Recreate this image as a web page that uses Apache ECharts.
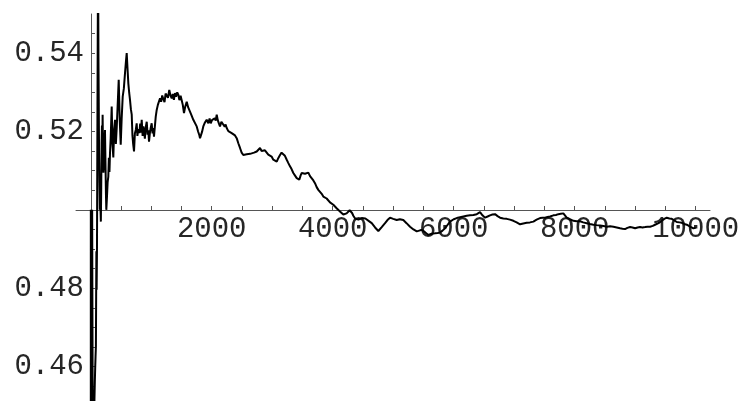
<!DOCTYPE html>
<html>
<head>
<meta charset="utf-8">
<script src="https://cdn.jsdelivr.net/npm/echarts@6/dist/echarts.min.js"></script>
<style>
  html, body { margin: 0; padding: 0; background: #fff; }
  #chart { width: 743px; height: 401px; }
</style>
</head>
<body>
<div id="chart"></div>
<script>
// running mean of coin flips
let trials = [1,2,3,4,6,8,10,12,14,16,18,21,24,27,30,34,38,44,50,56,62,68,74,80,86,90,94,98,104,108,112,116,120,124,128,132,138,144,150,156,162,168,174,180,186,192,197,204,210,220,228,236,244,252,258,264,270,280,291,300,310,319,330,347,360,374,388,402,416,430,446,463,480,496,512,529,548,567,582,595,608,622,636,650,664,678,690,702,716,730,745,760,772,786,804,818,830,843,858,870,881,895,910,926,940,952,964,978,994,1008,1022,1034,1046,1060,1075,1091,1110,1128,1146,1164,1182,1200,1220,1238,1256,1276,1299,1320,1339,1356,1375,1393,1410,1430,1448,1466,1486,1504,1522,1542,1560,1587,1610,1627,1641,1665,1696,1720,1752,1775,1795,1807,1822,1840,1861,1885,1917,1945,1965,1984,2005,2027,2050,2066,2083,2100,2120,2137,2160,2192,2215,2230,2248,2275,2303,2330,2357,2385,2413,2440,2468,2495,2522,2550,2579,2610,2635,2661,2700,2744,2770,2799,2825,2853,2880,2909,2935,2964,2990,3018,3045,3075,3100,3129,3155,3184,3210,3240,3265,3294,3320,3349,3375,3405,3430,3448,3470,3488,3515,3542,3570,3597,3625,3652,3680,3707,3735,3762,3790,3818,3845,3873,3900,3928,3955,3984,4010,4038,4065,4093,4120,4149,4175,4204,4230,4258,4280,4303,4320,4341,4370,4397,4425,4451,4480,4506,4540,4572,4610,4645,4700,4754,4810,4865,4905,4947,5000,5058,5110,5167,5220,5278,5335,5389,5430,5472,5525,5581,5635,5691,5735,5774,5815,5857,5900,5939,6000,6050,6105,6160,6215,6270,6325,6381,6435,6475,6518,6560,6600,6640,6683,6725,6766,6820,6876,6930,6986,7040,7097,7150,7207,7260,7317,7370,7427,7470,7510,7550,7593,7647,7690,7730,7770,7812,7840,7868,7920,7978,8030,8088,8140,8199,8250,8309,8360,8419,8475,8530,8585,8640,8695,8750,8790,8832,8870,8915,8955,8998,9040,9080,9120,9163,9205,9246,9290,9328,9385,9439,9480,9521,9565,9604,9645,9687,9730,9769,9810,9852,9900,9961,10000];
let means = [0,0.5,0.3333,0.25,0.3333,0.375,0.4,0.4167,0.4286,0.4375,0.4444,0.4762,0.5,0.4815,0.4667,0.4412,0.4211,0.4318,0.44,0.4464,0.4516,0.4559,0.4595,0.4625,0.4651,0.4778,0.4894,0.4796,0.4904,0.5093,0.5268,0.5431,0.5583,0.5565,0.5391,0.5303,0.5145,0.5069,0.5,0.5064,0.5,0.497,0.5057,0.5167,0.5215,0.5156,0.5243,0.5147,0.5095,0.5128,0.5175,0.5204,0.5123,0.504,0.5,0.5,0.5037,0.5071,0.5085,0.5133,0.5097,0.5145,0.5182,0.5264,0.5167,0.5134,0.5206,0.523,0.5168,0.5209,0.5269,0.5332,0.5229,0.5166,0.5234,0.5289,0.531,0.5349,0.5378,0.54,0.5362,0.5323,0.5299,0.528,0.5257,0.5243,0.519,0.5168,0.5149,0.5195,0.5204,0.5221,0.5189,0.5206,0.5196,0.522,0.5197,0.523,0.5189,0.5213,0.5204,0.5182,0.5211,0.5225,0.5192,0.5203,0.5174,0.5196,0.5211,0.5221,0.5195,0.5209,0.5187,0.5212,0.5238,0.5255,0.5268,0.5263,0.5285,0.5276,0.5292,0.5283,0.5275,0.5297,0.5302,0.5286,0.5306,0.5291,0.5285,0.5296,0.5281,0.5298,0.5289,0.53,0.5294,0.528,0.5291,0.528,0.5268,0.5247,0.5262,0.5276,0.5262,0.5258,0.5251,0.5242,0.523,0.5226,0.5213,0.52,0.5191,0.5183,0.5188,0.5199,0.5213,0.5222,0.523,0.5221,0.5233,0.5221,0.5229,0.523,0.5234,0.5228,0.5243,0.5229,0.522,0.5213,0.5225,0.5225,0.5212,0.5218,0.5209,0.5201,0.5204,0.5196,0.5196,0.519,0.5183,0.517,0.5158,0.5146,0.514,0.5143,0.5142,0.5137,0.5143,0.514,0.5146,0.5149,0.5152,0.5158,0.515,0.5146,0.5152,0.5147,0.5141,0.5142,0.5136,0.5128,0.5125,0.5123,0.5132,0.514,0.5146,0.5145,0.5138,0.5128,0.512,0.5111,0.5104,0.5094,0.5088,0.5081,0.5079,0.5077,0.5088,0.5094,0.5089,0.5092,0.509,0.5095,0.5086,0.5081,0.5075,0.5068,0.5058,0.5051,0.5046,0.5041,0.5034,0.503,0.5029,0.5026,0.5019,0.5015,0.5013,0.501,0.5004,0.5,0.4996,0.4992,0.4988,0.4985,0.4991,0.4996,0.4999,0.5,0.4992,0.4985,0.4978,0.4973,0.4975,0.4975,0.4979,0.4981,0.4978,0.4976,0.497,0.4966,0.4955,0.4946,0.4956,0.4966,0.4974,0.498,0.4977,0.4974,0.4976,0.4974,0.4966,0.4957,0.495,0.4945,0.4947,0.4949,0.4943,0.4936,0.4939,0.494,0.4941,0.4942,0.4947,0.4953,0.4962,0.497,0.4976,0.4979,0.4981,0.4983,0.4985,0.4986,0.4987,0.4989,0.4994,0.4986,0.498,0.4983,0.4986,0.4988,0.4989,0.4984,0.498,0.4978,0.4977,0.4975,0.4972,0.4968,0.4963,0.4965,0.4967,0.4968,0.497,0.4975,0.4979,0.498,0.498,0.4982,0.4983,0.4986,0.4987,0.4989,0.499,0.4991,0.4986,0.498,0.4976,0.4972,0.4971,0.4971,0.4968,0.4966,0.4964,0.4962,0.4961,0.496,0.4959,0.4957,0.4958,0.4957,0.4955,0.4953,0.4952,0.4951,0.4954,0.4956,0.4955,0.4953,0.4955,0.4956,0.4955,0.4956,0.4957,0.4957,0.4959,0.4962,0.4966,0.4972,0.4977,0.498,0.4978,0.4977,0.4973,0.4969,0.4968,0.4967,0.4964,0.4962,0.4958,0.4953,0.4954];

let xTickLabels = [2000, 4000, 6000, 8000, 10000];
let yTickLabels = [0.46, 0.48, 0.52, 0.54];

let xMinorTicks = [];
for (let v = 500; v <= 10000; v += 500) xMinorTicks.push(v);
let yMinorTicks = [];
for (let k = 91; k <= 109; k++) yMinorTicks.push(k * 0.005);

let points = [];
for (let i = 0; i < trials.length; i++) points.push([trials[i], means[i]]);

let labelFont = {
    fontFamily: '"Liberation Mono", "DejaVu Sans Mono", monospace',
    fontSize: 29,
    color: '#262626'
};
let axisColor = '#555';

let myChart = echarts.init(document.getElementById('chart'), null, {renderer: 'canvas'});
let option = {
    animation: false,
    backgroundColor: '#fff',
    grid: {left: 76, right: 33, top: 14, bottom: 0, containLabel: false, outerBoundsMode: 'none'},
    xAxis: {
        // axis crosses at 0.5, so shift it up from the grid bottom
        type: 'value',
        position: 'bottom',
        offset: -191,
        min: -243,
        max: 10236,
        axisLine: {onZero: false, lineStyle: {color: axisColor, width: 1}},
        axisTick: {show: true, inside: true, length: 4, customValues: xMinorTicks, lineStyle: {color: axisColor}},
        axisLabel: Object.assign({
            customValues: xTickLabels,
            margin: 5,
            formatter: function (v) { return String(v); }
        }, labelFont),
        splitLine: {show: false}
    },
    yAxis: {
        type: 'value',
        position: 'left',
        offset: -15,
        min: 0.4512,
        max: 0.55,
        axisLine: {onZero: false, lineStyle: {color: axisColor, width: 1}},
        axisTick: {show: true, inside: true, length: 4, customValues: yMinorTicks, lineStyle: {color: axisColor}},
        axisLabel: Object.assign({
            customValues: yTickLabels,
            margin: 7,
            formatter: function (v) { return v.toFixed(2); }
        }, labelFont),
        splitLine: {show: false}
    },
    series: [{
        type: 'line',
        data: points,
        showSymbol: false,
        clip: true,
        lineStyle: {color: '#000', width: 2},
        z: 1
    }]
};
myChart.setOption(option);
</script>
</body>
</html>
